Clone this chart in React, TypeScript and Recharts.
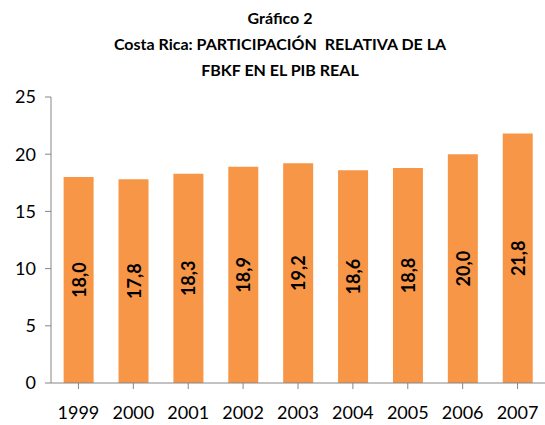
import { BarChart, Bar, XAxis, YAxis, LabelList } from 'recharts'

const years = ['1999', '2000', '2001', '2002', '2003', '2004', '2005', '2006', '2007']
const shares = [18.0, 17.8, 18.3, 18.9, 19.2, 18.6, 18.8, 20.0, 21.8]
const yTicks = [0, 5, 10, 15, 20, 25]
const titleLines = ['Gráfico 2', 'Costa Rica: PARTICIPACIÓN  RELATIVA DE LA', 'FBKF EN EL PIB REAL']

const data = years.map((year, i) => ({ year, value: shares[i] }))

const FONT = 'Lato, "Open Sans", sans-serif'

function BarValue(props: any) {
  const { x, y, width, height, value } = props
  const cx = x + width / 2
  const cy = y + height / 2
  return (
    <text
      x={cx}
      y={cy}
      transform={`rotate(-90 ${cx} ${cy})`}
      textAnchor="middle"
      dominantBaseline="central"
      fontFamily={FONT}
      fontSize={18}
      fontWeight="bold"
      fill="#000"
    >
      {value.toFixed(1).replace('.', ',')}
    </text>
  )
}

export default function App() {
  return (
    <div style={{ position: 'absolute', left: 0, top: 0, width: 545, height: 425, background: '#fff' }}>
      <div
        style={{
          position: 'absolute',
          left: 0,
          top: 5,
          width: 560,
          textAlign: 'center',
          fontFamily: FONT,
          fontWeight: 'bold',
          fontSize: 16,
          lineHeight: '26px',
          color: '#000',
          whiteSpace: 'pre',
        }}
      >
        {titleLines.map((t) => (
          <div key={t}>{t}</div>
        ))}
      </div>
      <BarChart
        width={545}
        height={425}
        data={data}
        margin={{ top: 97, right: 0, bottom: 0, left: 0 }}
        barCategoryGap="23%"
      >
        <XAxis
          dataKey="year"
          height={42}
          stroke="#868686"
          tickSize={6}
          tickMargin={17}
          interval={0}
          tick={{ fill: '#000', fontSize: 18, fontFamily: FONT }}
        />
        <YAxis
          domain={[0, 25]}
          ticks={yTicks}
          width={51}
          stroke="#868686"
          tickSize={6}
          tickMargin={9}
          tick={{ fill: '#000', fontSize: 18, fontFamily: FONT }}
        />
        <Bar dataKey="value" fill="#F79646" isAnimationActive={false}>
          <LabelList dataKey="value" content={BarValue} />
        </Bar>
      </BarChart>
    </div>
  )
}
